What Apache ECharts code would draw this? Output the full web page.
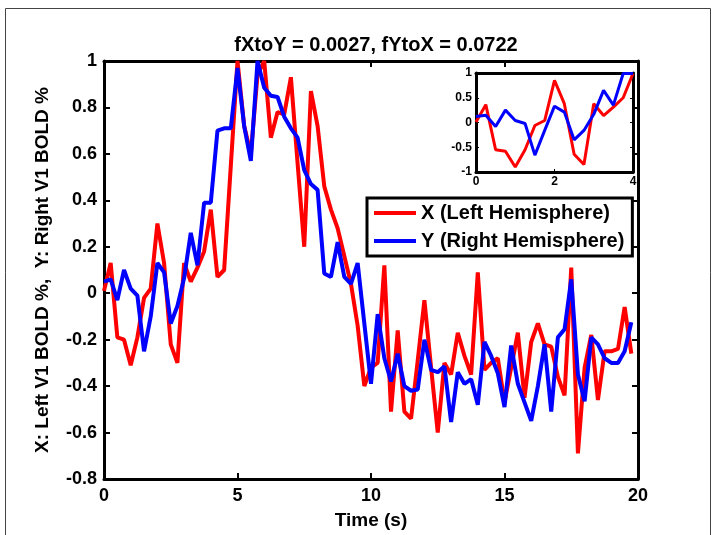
<!DOCTYPE html>
<html>
<head>
<meta charset="utf-8">
<script src="https://cdn.jsdelivr.net/npm/echarts@6/dist/echarts.min.js"></script>
<style>
	html, body { margin: 0; padding: 0; background: #fff; }
	#chart { width: 716px; height: 535px; }
</style>
</head>
<body>
<div id="chart"></div>
<script>
	// sampling step of the BOLD series (s)
	var dt = 0.25;

	// X (left hemisphere), main panel
	var leftBold = [0.01, 0.13, -0.19, -0.20, -0.31, -0.19, -0.02, 0.02, 0.30, 0.13,
		-0.22, -0.30, 0.13, 0.05, 0.11, 0.18, 0.36, 0.07, 0.10, 0.55,
		1.00, 0.72, 0.60, 0.94, 1.00, 0.67, 0.78, 0.77, 0.93, 0.56,
		0.20, 0.87, 0.72, 0.46, 0.36, 0.28, 0.16, 0.04, -0.14, -0.40,
		-0.32, -0.30, 0.12, -0.51, -0.16, -0.51, -0.54, -0.29, -0.03, -0.32,
		-0.60, -0.30, -0.35, -0.17, -0.27, -0.35, 0.09, -0.33, -0.30, -0.28,
		-0.47, -0.32, -0.17, -0.45, -0.21, -0.13, -0.22, -0.23, -0.36, -0.44,
		0.11, -0.69, -0.32, -0.18, -0.46, -0.25, -0.25, -0.24, -0.06, -0.26];

	// Y (right hemisphere), main panel
	var rightBold = [0.05, 0.06, -0.03, 0.10, 0.02, -0.01, -0.25, -0.10, 0.13, 0.09,
		-0.13, -0.055, 0.065, 0.26, 0.12, 0.39, 0.39, 0.70, 0.71, 0.71,
		0.97, 0.72, 0.57, 1.00, 0.885, 0.85, 0.845, 0.76, 0.71, 0.67,
		0.53, 0.47, 0.445, 0.085, 0.07, 0.22, 0.07, 0.04, 0.13, -0.13,
		-0.39, -0.09, -0.28, -0.38, -0.26, -0.40, -0.42, -0.415, -0.20, -0.33,
		-0.34, -0.315, -0.555, -0.34, -0.39, -0.37, -0.48, -0.21, -0.27, -0.345,
		-0.49, -0.225, -0.39, -0.47, -0.55, -0.40, -0.22, -0.51, -0.19, -0.155,
		0.06, -0.35, -0.465, -0.19, -0.22, -0.28, -0.30, -0.30, -0.25, -0.125];

	// inset (0 - 4 s)
	var insetLeft = [0.01, 0.36, -0.55, -0.58, -0.90, -0.55, -0.06, 0.04, 0.85,
		0.38, -0.64, -0.85, 0.38, 0.14, 0.31, 0.50, 0.99];
	var insetRight = [0.12, 0.145, -0.08, 0.25, 0.04, -0.02, -0.66, -0.16, 0.33,
		0.21, -0.35, -0.16, 0.165, 0.65, 0.35, 0.99, 0.99];

	var legendNames = ['X (Left Hemisphere)', 'Y (Right Hemisphere)'];
	var titleText = 'fXtoY = 0.0027, fYtoX = 0.0722';

	function pairs(arr) {
		var out = [];
		for (var i = 0; i < arr.length; i++) {
			out.push([i * dt, arr[i]]);
		}
		return out;
	}

	var font = 'Liberation Sans, Arial, sans-serif';
	var axisLine = { show: true, onZero: false, lineStyle: { color: '#000', width: 3 } };
	var tick = { show: true, inside: true, length: 6, lineStyle: { color: '#000', width: 2 } };
	var smallTick = { show: true, inside: true, length: 3, lineStyle: { color: '#000', width: 1 } };
	var mainLabel = { color: '#000', fontSize: 18, fontWeight: 'bold', fontFamily: font };
	var insetLabel = { color: '#000', fontSize: 12, fontWeight: 'bold', fontFamily: font, margin: 4 };
	var nameStyle = { color: '#000', fontSize: 19, fontWeight: 'bold', fontFamily: font };

	var chart = echarts.init(document.getElementById('chart'));
	var option = {
		backgroundColor: '#fff',
		animation: false,
		graphic: [{
			type: 'rect',
			shape: { x: 5.5, y: 8.5, width: 705, height: 540 },
			style: { fill: 'none', stroke: '#444', lineWidth: 1 },
			silent: true,
			z: -10
		}],
		title: {
			text: titleText,
			left: 371,
			top: 30,
			textAlign: 'center',
			textStyle: { color: '#000', fontSize: 20, fontWeight: 'bold', fontFamily: font }
		},
		legend: {
			data: legendNames,
			orient: 'vertical',
			left: 367,
			top: 198,
			icon: 'rect',
			itemWidth: 42,
			itemHeight: 4,
			itemGap: 8,
			padding: [5, 8, 5, 7],
			backgroundColor: '#fff',
			borderColor: '#000',
			borderWidth: 3,
			textStyle: { color: '#000', fontSize: 20, fontWeight: 'bold', fontFamily: font },
			z: 10
		},
		grid: [{
			left: 104, top: 61, right: 78, bottom: 49
		}, {
			left: 476, top: 73, width: 157, height: 99,
			show: true, backgroundColor: '#fff', borderWidth: 0, z: 5
		}],
		xAxis: [{
			type: 'value', gridIndex: 0, min: 0, max: 20, interval: 5,
			name: 'Time (s)', nameLocation: 'middle', nameGap: 32,
			nameTextStyle: nameStyle,
			axisLine: axisLine, axisTick: tick, splitLine: { show: false },
			axisLabel: Object.assign({ margin: 8 }, mainLabel)
		}, {
			type: 'value', gridIndex: 0, position: 'top', min: 0, max: 20, interval: 5,
			axisLine: axisLine, axisTick: tick, splitLine: { show: false },
			axisLabel: { show: false }
		}, {
			type: 'value', gridIndex: 1, min: 0, max: 4, interval: 2,
			axisLine: axisLine, axisTick: smallTick,
			splitLine: { show: false }, axisLabel: insetLabel, z: 6
		}, {
			type: 'value', gridIndex: 1, position: 'top', min: 0, max: 4, interval: 2,
			axisLine: axisLine, axisTick: { show: false }, splitLine: { show: false },
			axisLabel: { show: false }, z: 6
		}],
		yAxis: [{
			type: 'value', gridIndex: 0, min: -0.8, max: 1, interval: 0.2,
			name: 'X: Left V1 BOLD %,  Y: Right V1 BOLD %', nameLocation: 'middle', nameGap: 52,
			nameTextStyle: nameStyle,
			axisLine: axisLine, axisTick: tick, splitLine: { show: false },
			axisLabel: Object.assign({ margin: 7 }, mainLabel)
		}, {
			type: 'value', gridIndex: 0, position: 'right', min: -0.8, max: 1, interval: 0.2,
			axisLine: axisLine, axisTick: tick, splitLine: { show: false },
			axisLabel: { show: false }
		}, {
			type: 'value', gridIndex: 1, min: -1, max: 1, interval: 0.5,
			axisLine: axisLine, axisTick: smallTick,
			splitLine: { show: false }, axisLabel: insetLabel, z: 6
		}, {
			type: 'value', gridIndex: 1, position: 'right', min: -1, max: 1, interval: 0.5,
			axisLine: axisLine, axisTick: smallTick,
			splitLine: { show: false }, axisLabel: { show: false }, z: 6
		}],
		series: [{
			name: legendNames[0], type: 'line', xAxisIndex: 0, yAxisIndex: 0,
			data: pairs(leftBold), symbol: 'none', color: '#ff0000',
			lineStyle: { width: 4, color: '#ff0000' }, z: 2
		}, {
			name: legendNames[1], type: 'line', xAxisIndex: 0, yAxisIndex: 0,
			data: pairs(rightBold), symbol: 'none', color: '#0000ff',
			lineStyle: { width: 4, color: '#0000ff' }, z: 3
		}, {
			name: 'insetX', type: 'line', xAxisIndex: 2, yAxisIndex: 2,
			data: pairs(insetLeft), symbol: 'none',
			lineStyle: { width: 3, color: '#ff0000' }, z: 6
		}, {
			name: 'insetY', type: 'line', xAxisIndex: 2, yAxisIndex: 2,
			data: pairs(insetRight), symbol: 'none',
			lineStyle: { width: 3, color: '#0000ff' }, z: 6
		}]
	};
	chart.setOption(option);
</script>
</body>
</html>
